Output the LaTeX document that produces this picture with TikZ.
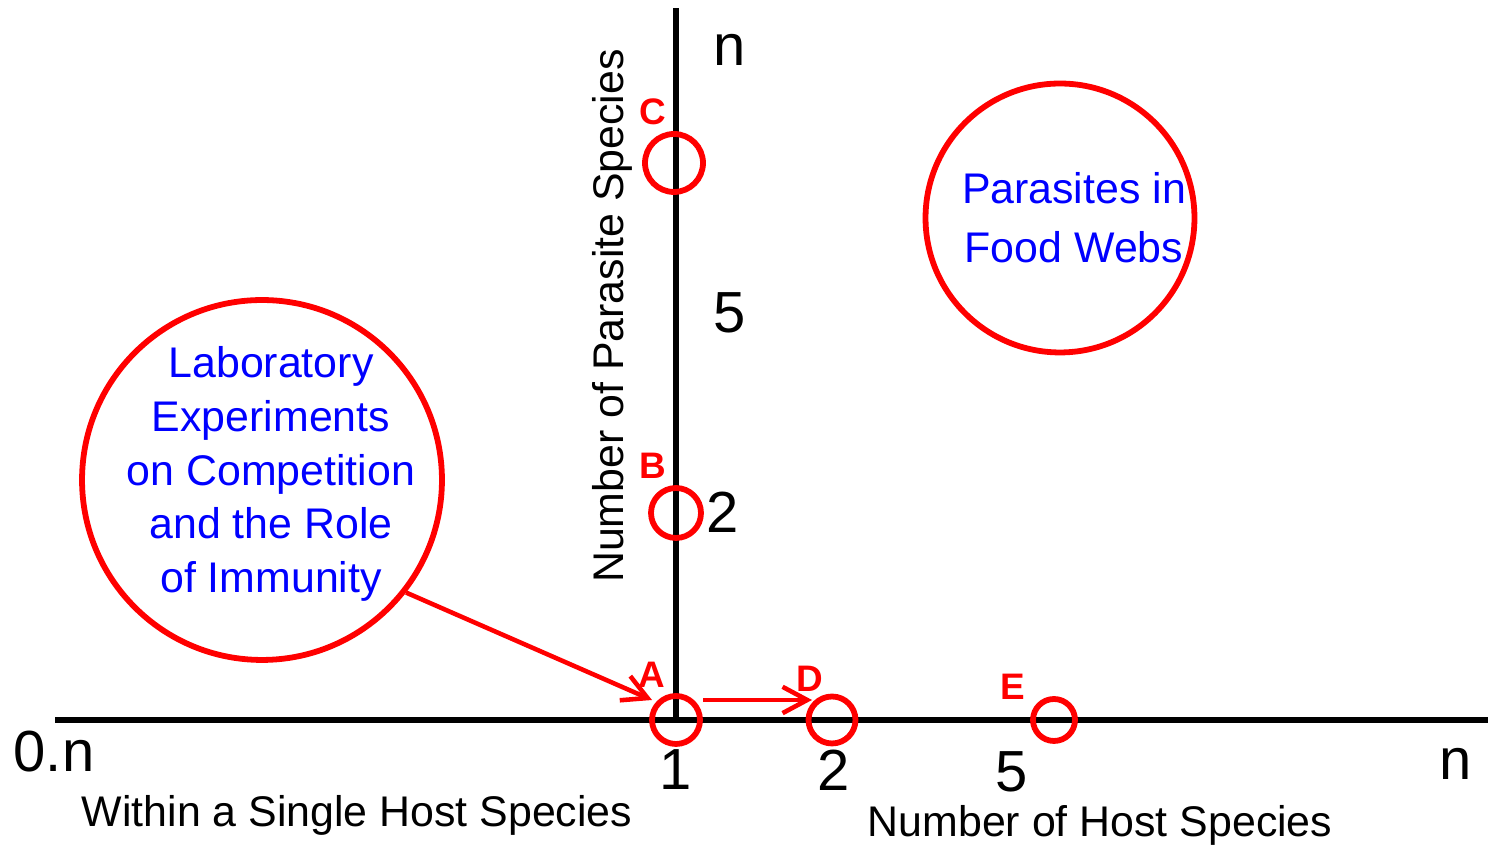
\documentclass[tikz,border=0pt]{standalone}
\usepackage{fontspec}
\setmainfont{Liberation Sans}
\usetikzlibrary{arrows.meta,calc,positioning}

\begin{document}
\begin{tikzpicture}[x=0.02cm,y=0.02cm,
    axis/.style={line width=3.3pt},
    spot/.style={circle,draw=red,line width=3.3pt,inner sep=0pt},
    tag/.style={text=red,font=\fontsize{21}{21}\selectfont\bfseries},
    tick/.style={font=\fontsize{33}{33}\selectfont},
    title/.style={font=\fontsize{24.4}{24.4}\selectfont},
    topic/.style={text=blue,align=center},
    link/.style={->,draw=red,line width=2.6pt},
    >={Straight Barb[length=14pt,width=15pt]}]
  \useasboundingbox (0,0) rectangle (1488,847);
  % axes
  \coordinate (x_0) at (55,127);
  \coordinate (x_n) at (1488,127);
  \coordinate (y_0) at (676,127);
  \coordinate (y_n) at (676,839);
  \draw[axis] (x_0) -- (x_n);
  \draw[axis] (y_0) -- (y_n);
  % spots on the axes
  \node[spot,minimum size=0.96cm] (A) at (676,127) {};
  \node[spot,minimum size=0.94cm] (D) at (832,127) {};
  \node[spot,minimum size=0.84cm] (E) at (1054,127) {};
  \node[spot,minimum size=1.0cm] (B) at (676,334) {};
  \node[spot,minimum size=1.16cm] (C) at (674,684) {};
  \node[tag] (A_tag) at (652,172) {A};
  \node[tag] (D_tag) at (810,168) {D};
  \node[tag] (E_tag) at (1013,160) {E};
  \node[tag] (B_tag) at (653,381) {B};
  \node[tag] (C_tag) at (653,735) {C};
  % tick labels
  \node[tick] (t_yn) at (730,797) {n};
  \node[tick] (t_y5) at (730,534) {5};
  \node[tick] (t_y2) at (723,335) {2};
  \node[tick] (t_x0) at (54,95) {0.n};
  \node[tick] (t_x1) at (676,77) {1};
  \node[tick] (t_x2) at (834,77) {2};
  \node[tick] (t_x5) at (1012,75) {5};
  \node[tick] (t_xn) at (1456,83) {n};
  % axis titles
  \node[title,rotate=90] (y_title) at (612,531) {Number of Parasite Species};
  \node[title] (single) at (357,32) {Within a Single Host Species};
  \node[title] (x_title) at (1100,22) {Number of Host Species};
  % topics
  \node[spot,minimum size=7.2cm] (lab) at (262,367) {};
  \node[topic,font=\fontsize{24.4}{30.6}\selectfont] (lab_text) at (271,373)
    {Laboratory\\Experiments\\on Competition\\and the Role\\of Immunity};
  \node[spot,minimum size=5.38cm] (food) at (1060,629) {};
  \node[topic,font=\fontsize{24.4}{33.5}\selectfont] (food_text) at (1074,629)
    {Parasites in\\Food Webs};
  \draw[link] (lab.-38) -- ([shift={(-24,20)}]A.center);
  \draw[link] ([shift={(27,20)}]A.center) -- ([shift={(-20,20)}]D.center);
\end{tikzpicture}
\end{document}
